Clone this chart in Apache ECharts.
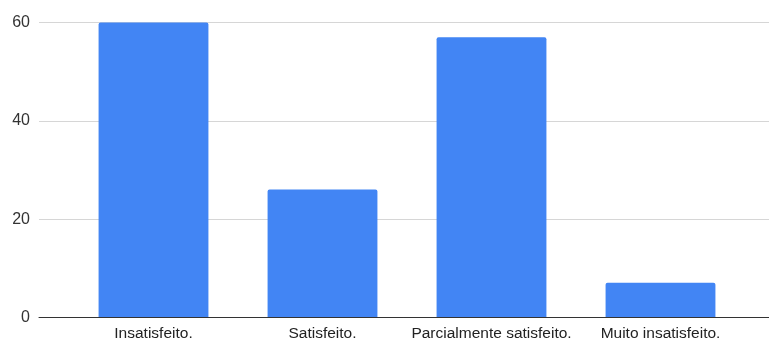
<!DOCTYPE html>
<html>
<head>
<meta charset="utf-8">
<script src="https://cdn.jsdelivr.net/npm/echarts@6/dist/echarts.min.js"></script>
<style>
  html, body { margin: 0; padding: 0; background: #fff; }
  #chart { width: 769px; height: 342px; }
</style>
</head>
<body>
<div id="chart"></div>
<script>
// Survey answers and their counts
const categories = ['Insatisfeito.', 'Satisfeito.', 'Parcialmente satisfeito.', 'Muito insatisfeito.'];
const counts = [60, 26, 57, 7];

// Value axis range
const yMin = 0;
const yMax = 60;
const yStep = 20;

const FONT = '"Liberation Sans", Arial, sans-serif';
const chart = echarts.init(document.getElementById('chart'), null, { renderer: 'canvas' });

chart.setOption({
  animation: false,
  backgroundColor: '#ffffff',
  grid: [
    // full-width frame: gridlines, value labels and baseline
    { left: 39, right: 0, top: 22.5, bottom: 24.5, containLabel: false },
    // bar area
    { left: 69, right: 24, top: 22.5, bottom: 24.5, containLabel: false }
  ],
  xAxis: [
    {
      gridIndex: 0, type: 'value', min: 0, max: 1,
      axisLine: { show: true, onZero: false, lineStyle: { color: '#333333', width: 1 } },
      axisTick: { show: false }, axisLabel: { show: false }, splitLine: { show: false },
      z: 5
    },
    {
      gridIndex: 1, type: 'category', data: categories,
      axisLine: { show: false }, axisTick: { show: false },
      axisLabel: { color: '#222222', fontSize: 15.5, fontFamily: FONT, margin: 9, interval: 0 }
    }
  ],
  yAxis: [
    {
      gridIndex: 0, type: 'value', min: yMin, max: yMax, interval: yStep,
      axisLine: { show: false }, axisTick: { show: false },
      axisLabel: { color: '#333333', fontSize: 16, fontFamily: FONT, margin: 9 },
      splitLine: { show: true, lineStyle: { color: '#d6d6d6', width: 1 } }
    },
    {
      gridIndex: 1, type: 'value', min: yMin, max: yMax, interval: yStep,
      show: false, splitLine: { show: false }
    }
  ],
  series: [
    {
      type: 'bar',
      xAxisIndex: 1, yAxisIndex: 1,
      data: counts,
      barWidth: '65%',
      itemStyle: { color: '#4285f4', borderRadius: [2, 2, 0, 0] },
      z: 2
    }
  ]
});
</script>
</body>
</html>
